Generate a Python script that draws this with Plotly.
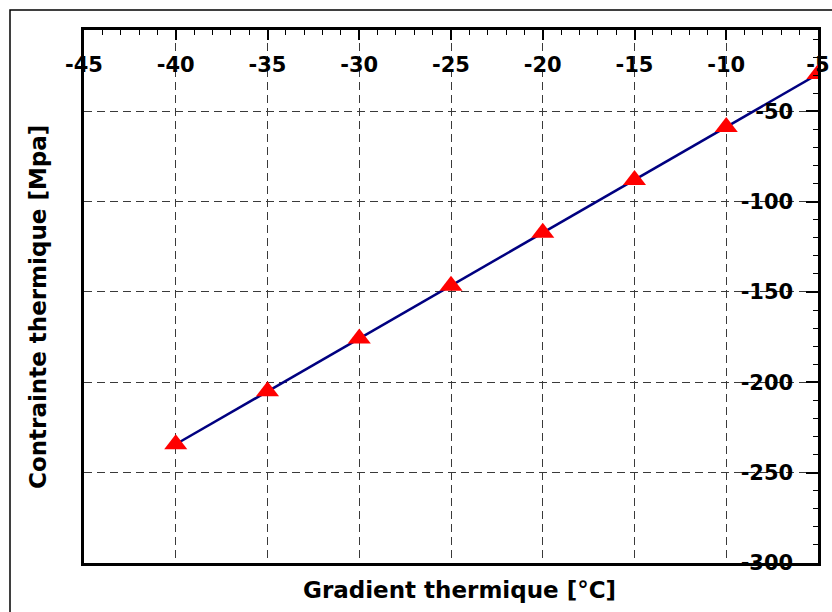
import plotly.graph_objects as go

gradient = [-40, -35, -30, -25, -20, -15, -10, -5]
contrainte = [-234.3, -205.0, -175.8, -146.5, -117.2, -88.0, -58.7, -29.4]

x_ticks = [-45, -40, -35, -30, -25, -20, -15, -10, -5]
y_ticks = [-300, -250, -200, -150, -100, -50]

W, H = 832, 612
L, R, T, B = 84, 818, 30, 563
pw, ph = R - L, B - T

def px(x):
    return (x - L) / pw

def py(y):
    return (B - y) / ph

fig = go.Figure()
fig.add_trace(go.Scatter(
    x=gradient, y=contrainte, mode="lines+markers",
    line=dict(color="#000080", width=2.5),
    marker=dict(symbol="triangle-up", size=20, color="#ff0000"),
    showlegend=False,
))

font_fam = "DejaVu Sans"
tickfont = dict(family=font_fam, size=21, color="black", weight="bold")

fig.update_layout(
    width=W, height=H,
    margin=dict(l=L, r=W - R, t=T, b=H - B, autoexpand=False),
    paper_bgcolor="white", plot_bgcolor="white",
    xaxis=dict(
        range=[-45, -5], side="top", tickvals=x_ticks,
        ticktext=[str(v) for v in x_ticks],
        ticks="inside", ticklen=10, tickwidth=1.5, tickcolor="black",
        ticklabelposition="inside", ticklabeloverflow="allow",
        ticklabelstandoff=19, automargin=False,
        tickfont=tickfont,
        showline=True, linecolor="black", linewidth=3, mirror=True,
        showgrid=True, gridcolor="#3a3a3a", gridwidth=1, griddash="8px,5px",
        zeroline=False,
        minor=dict(dtick=1, tick0=-45, ticks="inside", ticklen=5, tickwidth=1, tickcolor="black", showgrid=False),
    ),
    yaxis=dict(
        range=[-300, -5], side="right", tickvals=y_ticks,
        ticktext=[str(v) for v in y_ticks],
        ticks="inside", ticklen=12, tickwidth=1.5, tickcolor="black",
        ticklabelposition="inside", ticklabeloverflow="allow",
        ticklabelstandoff=14, automargin=False,
        tickfont=tickfont,
        showline=True, linecolor="black", linewidth=3, mirror=True,
        showgrid=True, gridcolor="#3a3a3a", gridwidth=1, griddash="8px,5px",
        zeroline=False,
        minor=dict(dtick=10, tick0=-300, ticks="inside", ticklen=5, tickwidth=1, tickcolor="black", showgrid=False),
    ),
    annotations=[
        dict(text="Gradient thermique [°C]", xref="paper", yref="paper",
             x=px(459), y=py(590), showarrow=False, xanchor="center", yanchor="middle",
             font=dict(family=font_fam, size=23, color="black", weight="bold")),
        dict(text="Contrainte thermique [Mpa]", xref="paper", yref="paper",
             x=px(38), y=py(307), showarrow=False, xanchor="center", yanchor="middle",
             textangle=-90,
             font=dict(family=font_fam, size=23, color="black", weight="bold")),
    ],
    shapes=[
        dict(type="rect", xref="paper", yref="paper",
             x0=px(10), x1=px(845), y0=py(625), y1=py(10),
             line=dict(color="black", width=1.5), layer="below"),
    ],
)

fig.write_html("out.html", config={"displayModeBar": False},
               post_script="document.body.style.margin='0';document.body.style.overflow='hidden';")
